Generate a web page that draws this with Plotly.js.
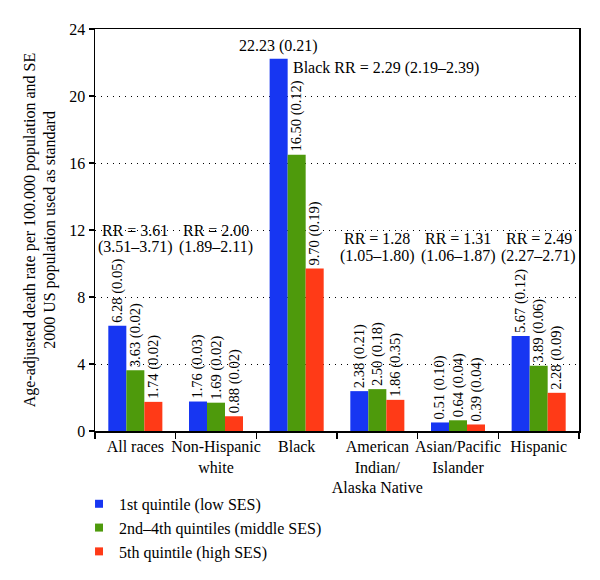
<!DOCTYPE html>
<html>
<head>
<meta charset="utf-8">
<script src="https://cdn.plot.ly/plotly-3.0.1.min.js"></script>
<style>html,body{margin:0;padding:0;background:#fff;}#chart{width:600px;height:580px;}</style>
</head>
<body>
<div id="chart"></div>
<script>
var categories = ["All races", "Non-Hispanic<br>white", "Black", "American<br>Indian/<br>Alaska Native", "Asian/Pacific<br>Islander", "Hispanic"];
var seriesNames = ["1st quintile (low SES)", "2nd\u20134th quintiles (middle SES)", "5th quintile (high SES)"];
var lowSES = [6.28, 1.76, 22.23, 2.38, 0.51, 5.67];
var lowSE = [0.05, 0.03, 0.21, 0.21, 0.10, 0.12];
var midSES = [3.63, 1.69, 16.50, 2.50, 0.64, 3.89];
var midSE = [0.02, 0.02, 0.12, 0.18, 0.04, 0.06];
var highSES = [1.74, 0.88, 9.70, 1.86, 0.39, 2.28];
var highSE = [0.02, 0.02, 0.19, 0.35, 0.04, 0.09];
var rrLine1 = ["RR = 3.61", "RR = 2.00", "Black RR = 2.29 (2.19\u20132.39)", "RR = 1.28", "RR = 1.31", "RR = 2.49"];
var rrLine2 = ["(3.51\u20133.71)", "(1.89\u20132.11)", "", "(1.05\u20131.80)", "(1.06\u20131.87)", "(2.27\u20132.71)"];
var yTicks = [0, 4, 8, 12, 16, 20, 24];
var colors = ["#1736f2", "#4e9a0c", "#ff3a17"];

var FONT = "Liberation Serif, Times New Roman, serif";
var BARGAP = 0.33;
var barW = (1 - BARGAP) / 3;
var horizontalIdx = 2; // blue Black label drawn horizontally

function labels(vals, se, skip) {
  return vals.map(function (v, i) {
    return (skip === i) ? "" : v.toFixed(2) + " (" + se[i].toFixed(2) + ")";
  });
}

var allVals = [lowSES, midSES, highSES];
var allSE = [lowSE, midSE, highSE];
var traces = [];
for (var s = 0; s < 3; s++) {
  traces.push({
    type: "bar",
    x: categories,
    y: allVals[s],
    name: seriesNames[s],
    marker: {color: colors[s], line: {width: 0}},
    text: labels(allVals[s], allSE[s], s === 0 ? horizontalIdx : -1),
    textposition: "outside",
    textangle: -90,
    constraintext: "none",
    cliponaxis: false,
    outsidetextfont: {family: FONT, size: 14.5, color: "#000"},
    showlegend: false,
    hoverinfo: "skip"
  });
}
for (var s2 = 0; s2 < 3; s2++) {
  traces.push({
    type: "scatter",
    mode: "markers",
    x: [null], y: [null],
    name: seriesNames[s2],
    marker: {symbol: "square", size: 8, color: colors[s2]},
    showlegend: true
  });
}

var annotations = [];
annotations.push({
  xref: "x", yref: "y",
  x: horizontalIdx - barW, y: lowSES[horizontalIdx],
  text: labels(lowSES, lowSE, -1)[horizontalIdx],
  showarrow: false, xanchor: "center", yanchor: "bottom", yshift: 2,
  font: {family: FONT, size: 16, color: "#000"}
});
var rrY1 = [12.0, 12.0, 21.67, 11.5, 11.5, 11.5];
var rrY2 = [11.0, 11.0, null, 10.45, 10.45, 10.45];
for (var i = 0; i < categories.length; i++) {
  if (i === horizontalIdx) {
    annotations.push({
      xref: "x", yref: "y", x: i, y: rrY1[i], xshift: -6,
      text: rrLine1[i], showarrow: false, xanchor: "left", yanchor: "middle",
      font: {family: FONT, size: 16, color: "#000"}
    });
  } else {
    annotations.push({
      xref: "x", yref: "y", x: i, y: rrY1[i],
      text: rrLine1[i], showarrow: false, xanchor: "center", yanchor: "middle",
      font: {family: FONT, size: 16, color: "#000"}
    });
    annotations.push({
      xref: "x", yref: "y", x: i, y: rrY2[i],
      text: rrLine2[i], showarrow: false, xanchor: "center", yanchor: "middle",
      font: {family: FONT, size: 16, color: "#000"}
    });
  }
}

var layout = {
  width: 600, height: 580,
  margin: {l: 95, r: 21, t: 29, b: 149, autoexpand: false},
  paper_bgcolor: "#fff", plot_bgcolor: "#fff",
  barmode: "group", bargap: BARGAP, bargroupgap: 0,
  font: {family: FONT, size: 16, color: "#000"},
  xaxis: {
    type: "category",
    tickson: "boundaries",
    tickangle: 0,
    automargin: false,
    ticks: "outside", ticklen: 6, tickwidth: 1.5, tickcolor: "#000",
    showline: true, linecolor: "#000", linewidth: 1.5, mirror: true,
    showgrid: false, zeroline: false,
    tickfont: {family: FONT, size: 16, color: "#000"}
  },
  yaxis: {
    range: [0, 24],
    automargin: false,
    tickvals: yTicks, ticktext: yTicks.map(String),
    ticks: "outside", ticklen: 5, tickwidth: 1.5, tickcolor: "#000",
    showline: true, linecolor: "#000", linewidth: 1.5, mirror: true,
    showgrid: true, gridcolor: "#000", gridwidth: 1, griddash: "1px,5px",
    zeroline: false,
    tickfont: {family: FONT, size: 16, color: "#000"},
    title: {text: "Age-adjusted death rate per 100.000 population and SE<br>2000 US population used as standard",
            font: {family: FONT, size: 16, color: "#000"}, standoff: 9}
  },
  legend: {
    x: -0.033, xanchor: "left", y: -0.139, yanchor: "top",
    orientation: "v",
    font: {family: FONT, size: 16, color: "#000"},
    bgcolor: "rgba(0,0,0,0)", tracegroupgap: 0
  },
  annotations: annotations
};

Plotly.newPlot("chart", traces, layout, {displayModeBar: false, staticPlot: true});
</script>
</body>
</html>
